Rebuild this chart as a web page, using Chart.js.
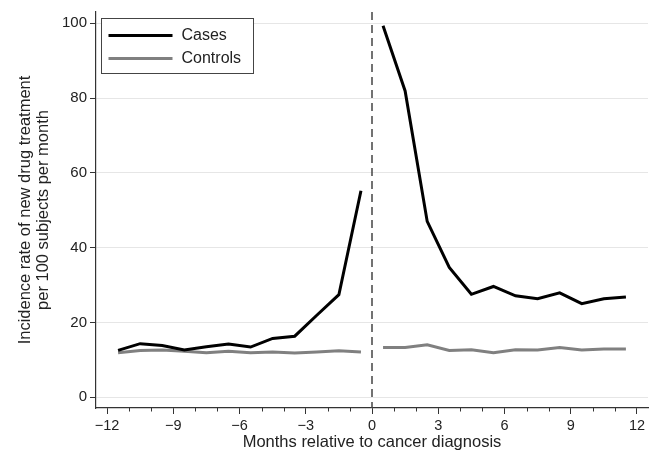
<!DOCTYPE html>
<html>
<head>
<meta charset="utf-8">
<script src="https://cdn.jsdelivr.net/npm/chart.js@4/dist/chart.umd.min.js"></script>
<style>
  html, body { margin: 0; padding: 0; background: #fff; }
  #wrap { width: 649px; height: 455px; position: relative; }
</style>
</head>
<body>
<div id="wrap"><canvas id="c" width="649" height="455"></canvas></div>
<script>
const monthsBefore = [-11.5, -10.5, -9.5, -8.5, -7.5, -6.5, -5.5, -4.5, -3.5, -2.5, -1.5, -0.5];
const monthsAfter  = [0.5, 1.5, 2.5, 3.5, 4.5, 5.5, 6.5, 7.5, 8.5, 9.5, 10.5, 11.5];
const casesBefore    = [12.5, 14.3, 13.8, 12.6, 13.5, 14.2, 13.4, 15.7, 16.3, 21.9, 27.4, 55.2];
const casesAfter     = [99.3, 81.9, 47.0, 34.7, 27.5, 29.6, 27.1, 26.3, 27.9, 25.0, 26.3, 26.8];
const controlsBefore = [11.9, 12.5, 12.6, 12.3, 11.9, 12.3, 11.9, 12.1, 11.8, 12.1, 12.4, 12.1];
const controlsAfter  = [13.3, 13.3, 14.0, 12.5, 12.7, 11.9, 12.7, 12.6, 13.3, 12.6, 12.9, 12.9];
const xTicks = [-12,-11,-10,-9,-8,-7,-6,-5,-4,-3,-2,-1,0,1,2,3,4,5,6,7,8,9,10,11,12];
const xLabelled = [-12, -9, -6, -3, 0, 3, 6, 9, 12];
const yTicks = [0, 20, 40, 60, 80, 100];
const seriesNames = ['Cases', 'Controls'];
const xTitle = 'Months relative to cancer diagnosis';
const yTitle = ['Incidence rate of new drug treatment', 'per 100 subjects per month'];

function toPoints(mb, vb, ma, va) {
  const pts = mb.map((m, i) => ({x: m, y: vb[i]}));
  pts.push({x: 0, y: null});
  return pts.concat(ma.map((m, i) => ({x: m, y: va[i]})));
}

const FONT = "'Liberation Sans', Arial, sans-serif";
const AXIS = '#333';

const extras = {
  id: 'extras',
  afterDatasetsDraw(chart) {
    const {ctx, chartArea, scales} = chart;
    const xs = scales.x;
    const x0 = xs.getPixelForValue(0);
    ctx.save();
    ctx.strokeStyle = '#444';
    ctx.lineWidth = 1.5;
    ctx.setLineDash([8, 5]);
    ctx.beginPath();
    ctx.moveTo(x0, chartArea.top);
    ctx.lineTo(x0, chartArea.bottom);
    ctx.stroke();
    ctx.restore();
  },
  afterDraw(chart) {
    const {ctx, chartArea, scales} = chart;
    const xs = scales.x;
    ctx.save();
    ctx.strokeStyle = AXIS;
    ctx.lineWidth = 1;
    xTicks.forEach(v => {
      if (xLabelled.includes(v)) return;
      const px = Math.round(xs.getPixelForValue(v)) + 0.5;
      ctx.beginPath();
      ctx.moveTo(px, chartArea.bottom);
      ctx.lineTo(px, chartArea.bottom + 3.5);
      ctx.stroke();
    });
    const bx = chartArea.left + 5.5, by = chartArea.top + 6.5, bw = 152, bh = 55;
    ctx.fillStyle = '#fff';
    ctx.fillRect(bx, by, bw, bh);
    ctx.strokeStyle = '#444';
    ctx.lineWidth = 1;
    ctx.strokeRect(bx, by, bw, bh);
    ctx.font = '16px ' + FONT;
    ctx.textBaseline = 'middle';
    chart.data.datasets.forEach((ds, i) => {
      const cy = by + 17 + i * 23;
      ctx.strokeStyle = ds.borderColor;
      ctx.lineWidth = 3;
      ctx.beginPath();
      ctx.moveTo(bx + 7, cy);
      ctx.lineTo(bx + 71, cy);
      ctx.stroke();
      ctx.fillStyle = '#222';
      ctx.fillText(ds.label, bx + 80, cy);
    });
    ctx.restore();
  }
};

new Chart(document.getElementById('c'), {
  type: 'line',
  data: {
    datasets: [
      {
        label: seriesNames[0],
        data: toPoints(monthsBefore, casesBefore, monthsAfter, casesAfter),
        borderColor: '#000',
        borderWidth: 3,
        pointRadius: 0,
        spanGaps: false,
        tension: 0
      },
      {
        label: seriesNames[1],
        data: toPoints(monthsBefore, controlsBefore, monthsAfter, controlsAfter),
        borderColor: '#808080',
        borderWidth: 3,
        pointRadius: 0,
        spanGaps: false,
        tension: 0
      }
    ]
  },
  options: {
    responsive: false,
    animation: false,
    layout: { padding: { left: 0, top: 8, right: 1, bottom: 0 } },
    plugins: { legend: { display: false }, tooltip: { enabled: false } },
    scales: {
      x: {
        type: 'linear',
        min: -12.5,
        max: 12.5,
        afterBuildTicks: s => { s.ticks = xTicks.map(v => ({value: v})); },
        afterFit: s => { s.height = 47; },
        ticks: {
          autoSkip: false,
          maxRotation: 0,
          padding: 3,
          color: '#222',
          font: { family: FONT, size: 14.5 },
          callback: v => xLabelled.includes(v) ? (v < 0 ? '\u2212' + Math.abs(v) : String(v)) : ''
        },
        grid: {
          drawOnChartArea: false,
          drawTicks: true,
          tickLength: 6,
          tickColor: c => (c.tick && xLabelled.includes(c.tick.value)) ? AXIS : 'rgba(0,0,0,0)',
          color: 'rgba(0,0,0,0)'
        },
        border: { display: true, color: AXIS, width: 1.2 },
        title: {
          display: true,
          text: xTitle,
          color: '#222',
          font: { family: FONT, size: 16.5 },
          padding: { top: 0, bottom: 3 }
        }
      },
      y: {
        type: 'linear',
        min: -2.9,
        max: 103,
        afterBuildTicks: s => { s.ticks = yTicks.map(v => ({value: v})); },
        afterFit: s => { s.width = 96; },
        ticks: {
          padding: 3,
          color: '#222',
          font: { family: FONT, size: 15 }
        },
        grid: {
          color: '#e6e6e6',
          lineWidth: 1,
          tickColor: AXIS,
          tickLength: 6
        },
        border: { display: true, color: AXIS, width: 1.2 },
        title: {
          display: true,
          text: yTitle,
          color: '#222',
          font: { family: FONT, size: 16.5, lineHeight: 1.1 },
          padding: { top: 16, bottom: 0 }
        }
      }
    }
  },
  plugins: [extras]
});
</script>
</body>
</html>
